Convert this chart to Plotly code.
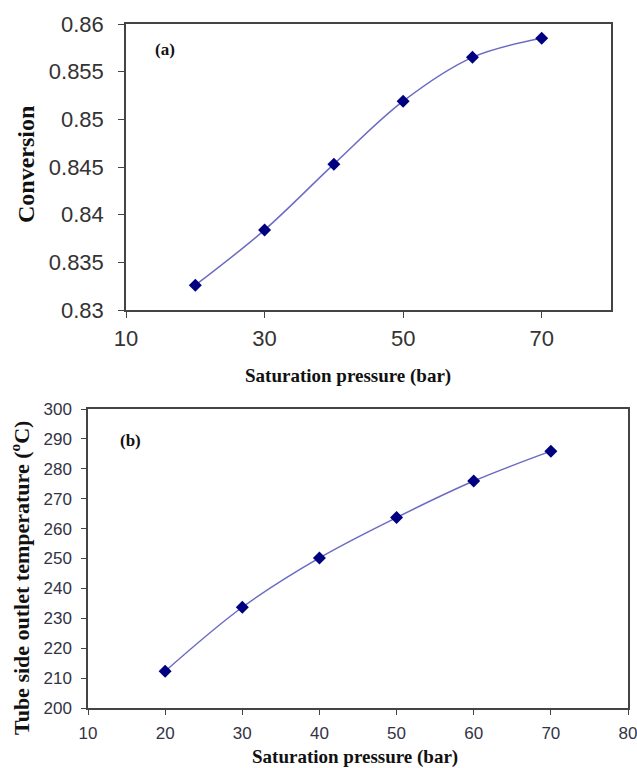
import plotly.graph_objects as go

# Saturation pressure (bar)
pressure = [20, 30, 40, 50, 60, 70]
# (a) conversion
conversion = [0.8326, 0.8384, 0.8453, 0.8519, 0.8565, 0.8585]
# (b) tube side outlet temperature (°C)
outlet_temp = [212.3, 233.7, 250.2, 263.7, 275.9, 285.9]

top_xticks = [10, 30, 50, 70]
top_yticks = [0.83, 0.835, 0.84, 0.845, 0.85, 0.855, 0.86]
top_yticklabels = ["0.83", "0.835", "0.84", "0.845", "0.85", "0.855", "0.86"]
bot_xticks = [10, 20, 30, 40, 50, 60, 70, 80]
bot_yticks = [200, 210, 220, 230, 240, 250, 260, 270, 280, 290, 300]

LINE_COLOR = "#6b6bc4"
MARKER_COLOR = "#000080"
FRAME = "#444444"
TICK_FONT = "Liberation Sans, Arial, sans-serif"
TITLE_FONT = "Liberation Serif, Times New Roman, serif"

fig = go.Figure()

fig.add_trace(go.Scatter(
    x=pressure, y=conversion, mode="lines+markers",
    line=dict(color=LINE_COLOR, width=1.5, shape="spline", smoothing=1.0),
    marker=dict(symbol="diamond", size=10, color=MARKER_COLOR),
    xaxis="x", yaxis="y", showlegend=False,
))
fig.add_trace(go.Scatter(
    x=pressure, y=outlet_temp, mode="lines+markers",
    line=dict(color=LINE_COLOR, width=1.5, shape="spline", smoothing=1.0),
    marker=dict(symbol="diamond", size=10, color=MARKER_COLOR),
    xaxis="x2", yaxis="y2", showlegend=False,
))

W, H = 637, 768

def px_x(v):
    return v / W

def px_y(v):
    return 1 - v / H

axis_common = dict(
    showgrid=False, zeroline=False, showline=True, mirror=True,
    linecolor=FRAME, linewidth=1.5, ticks="outside", tickcolor=FRAME,
    tickwidth=1.2, automargin=False, ticklabeloverflow="allow",
)

fig.update_layout(
    width=W, height=H,
    margin=dict(l=0, r=0, t=0, b=0),
    paper_bgcolor="white", plot_bgcolor="white",
    xaxis=dict(
        domain=[px_x(126), px_x(611)], range=[10, 80], anchor="y",
        tickvals=top_xticks, ticklen=6, ticklabelstandoff=2,
        tickfont=dict(family=TICK_FONT, size=22, color="#333333"),
        **axis_common,
    ),
    yaxis=dict(
        domain=[px_y(310), px_y(24)], range=[0.83, 0.86], anchor="x",
        tickvals=top_yticks, ticktext=top_yticklabels, ticklen=6,
        ticklabelstandoff=10,
        tickfont=dict(family=TICK_FONT, size=22, color="#333333"),
        **axis_common,
    ),
    xaxis2=dict(
        domain=[px_x(88), px_x(628)], range=[10, 80], anchor="y2",
        tickvals=bot_xticks, ticklen=5, ticklabelstandoff=4,
        tickfont=dict(family=TICK_FONT, size=17, color="#333344"),
        **axis_common,
    ),
    yaxis2=dict(
        domain=[px_y(708), px_y(409)], range=[200, 300], anchor="x2",
        tickvals=bot_yticks, ticklen=5, ticklabelstandoff=6,
        tickfont=dict(family=TICK_FONT, size=17, color="#333344"),
        **axis_common,
    ),
)

title_font = dict(family=TITLE_FONT, size=19, color="#111111")
annotations = [
    dict(text="<b>(a)</b>", x=px_x(165), y=px_y(49), font=dict(family=TITLE_FONT, size=17, color="#111111")),
    dict(text="<b>(b)</b>", x=px_x(130), y=px_y(440), font=dict(family=TITLE_FONT, size=17, color="#111111")),
    dict(text="<b>Saturation pressure (bar)</b>", x=px_x(348), y=px_y(376), font=title_font),
    dict(text="<b>Saturation pressure (bar)</b>", x=px_x(355), y=px_y(757), font=title_font),
    dict(text="<b>Conversion</b>", x=px_x(26), y=px_y(165), textangle=-90,
         font=dict(family=TITLE_FONT, size=24, color="#111111")),
    dict(text="<b>Tube side outlet temperature (<sup>o</sup>C)</b>", x=px_x(20), y=px_y(578),
         textangle=-90, font=dict(family=TITLE_FONT, size=22, color="#111111")),
]
for a in annotations:
    fig.add_annotation(xref="paper", yref="paper", showarrow=False,
                       xanchor="center", yanchor="middle", **a)

fig.write_html("out.html")
